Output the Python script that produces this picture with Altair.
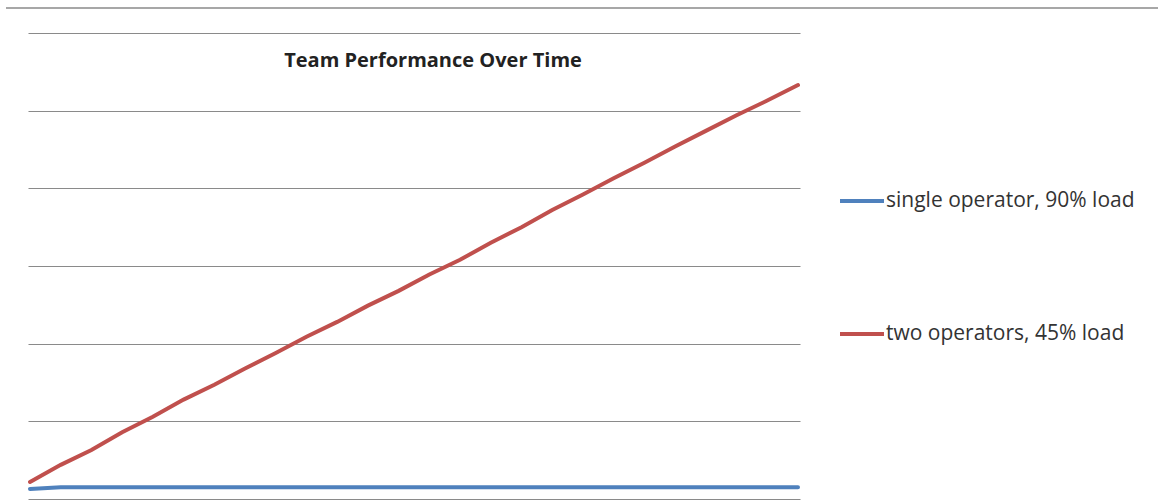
import altair as alt
import pandas as pd

series_names = ["single operator, 90% load", "two operators, 45% load"]
step = list(range(26))
single_vals = [0.13, 0.15, 0.15, 0.15, 0.15, 0.15, 0.15, 0.15, 0.15, 0.15, 0.15, 0.15, 0.15,
               0.15, 0.15, 0.15, 0.15, 0.15, 0.15, 0.15, 0.15, 0.15, 0.15, 0.15, 0.15, 0.15]
two_vals = [0.22, 0.44, 0.63, 0.86, 1.06, 1.28, 1.47, 1.68, 1.88, 2.09, 2.28, 2.49, 2.68,
            2.89, 3.08, 3.30, 3.50, 3.72, 3.92, 4.13, 4.33, 4.54, 4.74, 4.94, 5.13, 5.33]
title_text = "Team Performance Over Time"
grid_values = [0, 1, 2, 3, 4, 5, 6]

rows = []
for s, vals in zip(series_names, [single_vals, two_vals]):
    for i, v in zip(step, vals):
        rows.append({"step": i, "value": v, "series": s})
df = pd.DataFrame(rows)

W, H = 772, 466
pad = 2 / 767 * 25

lines = alt.Chart(df).mark_line(strokeWidth=4, strokeCap="round").encode(
    x=alt.X("step:Q", scale=alt.Scale(domain=[-pad, 25 + pad], nice=False, zero=False), axis=None),
    y=alt.Y("value:Q", scale=alt.Scale(domain=[0, 6], nice=False),
            axis=alt.Axis(values=grid_values, labels=False, ticks=False, domain=False, title=None,
                          grid=True, gridColor="#8a8a8a", gridWidth=1.2)),
    color=alt.Color("series:N", scale=alt.Scale(domain=series_names, range=["#4F81BD", "#C0504D"]),
                    legend=alt.Legend(orient="none", legendX=810, legendY=144, title=None,
                                      symbolType="stroke", symbolSize=1936, symbolStrokeWidth=4,
                                      labelFont="Open Sans", labelFontSize=21, labelColor="#333333",
                                      labelOffset=0, rowPadding=99, labelLimit=400)),
)

top_rule = alt.Chart(pd.DataFrame({"a": [0]})).mark_rule(color="#8a8a8a", strokeWidth=1.5).encode(
    x=alt.value(-22), x2=alt.value(1130), y=alt.value(-25)
)

chart = alt.layer(lines, top_rule).properties(
    width=W, height=H,
    background="white",
    title=alt.TitleParams(title_text, font="Open Sans", fontSize=20, fontWeight="bold",
                          color="#222222", anchor="middle", dx=19, dy=68),
    autosize=alt.AutoSizeParams(type="none"),
    padding={"left": 28, "top": 33, "right": 358, "bottom": 2},
).configure_view(stroke=None, strokeWidth=0)

chart.save("out.html", embed_options={"renderer": "svg", "actions": False})
